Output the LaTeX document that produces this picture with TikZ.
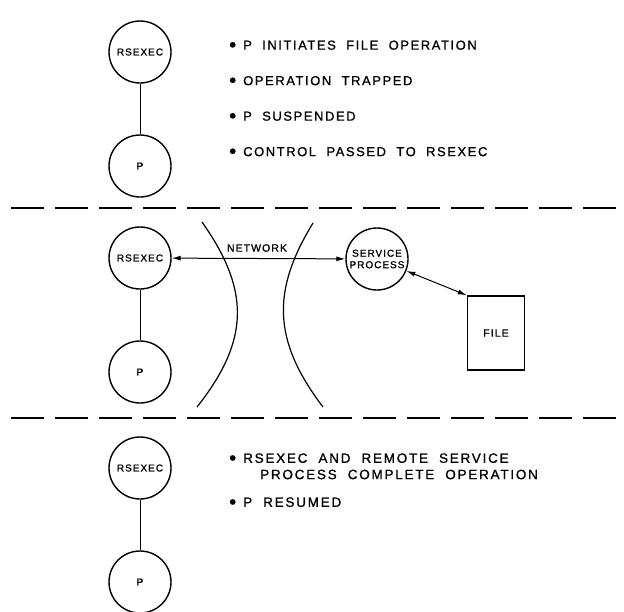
\documentclass[tikz,border=0pt]{standalone}
\usepackage{fontspec}
\setmainfont{Liberation Sans}
\newfontfamily\lblfont[LetterSpace=10,FakeBold=1.2]{Liberation Sans}
\newfontfamily\txtfont[LetterSpace=12,WordSpace=2,FakeBold=1.0]{Liberation Sans}
\newfontfamily\txtfontb[LetterSpace=13,WordSpace=2,FakeBold=1.0]{Liberation Sans}
\newcommand\bigbul{\raisebox{-1.8pt}{\fontsize{20}{14}\selectfont•}\hspace{7pt}}
\usetikzlibrary{arrows.meta}
\begin{document}
\begin{tikzpicture}[x=1pt,y=-1pt,
  proc/.style={circle,draw,line width=1.4pt,minimum size=62pt,inner sep=0pt,align=center,
    font=\lblfont\fontsize{10}{11.5}\selectfont},
  link/.style={line width=0.9pt},
  dline/.style={line width=1.8pt,dash pattern=on 33pt off 11pt},
  bul/.style={anchor=west,inner sep=0pt,font=\txtfont\fontsize{13}{15}\selectfont},
  bulb/.style={anchor=west,inner sep=0pt,font=\txtfontb\fontsize{13.5}{15}\selectfont},
  arr/.style={line width=1pt,{Latex[length=9pt,width=5pt]}-{Latex[length=9pt,width=5pt]}},
  filebox/.style={draw,line width=1.4pt,minimum width=57pt,minimum height=74pt,inner sep=0pt,
    font=\lblfont\fontsize{10.5}{12}\selectfont},
  netarc/.style={line width=1.2pt}
]
\useasboundingbox (0,0) rectangle (624,611);
\clip (0,0) rectangle (624,611);

% ---------- top section ----------
\node[proc] (r1) at (140,52) {RSEXEC};
\node[proc] (p1) at (140,166) {P};
\draw[link] (r1) -- (p1);
\node[bul] (t1) at (229,46) {\bigbul P INITIATES FILE OPERATION};
\node[bul] (t2) at (229,81.5) {\bigbul OPERATION TRAPPED};
\node[bul] (t3) at (229,117) {\bigbul P SUSPENDED};
\node[bul] (t4) at (229,152.5) {\bigbul CONTROL PASSED TO RSEXEC};

\coordinate (d1a) at (11,208); \coordinate (d1b) at (640,208);
\draw[dline] (d1a) -- (d1b);

% ---------- middle section ----------
\node[proc] (r2) at (140,258) {RSEXEC};
\node[proc] (p2) at (140,372) {P};
\draw[link] (r2) -- (p2);
\node[proc] (sp) at (377,259) {SERVICE\\PROCESS};
\node[filebox] (file) at (496,333) {FILE};
\draw[arr] (r2) -- (sp);
\node[inner sep=0pt,font=\lblfont\fontsize{10.5}{12}\selectfont] (net) at (257,248) {NETWORK};
\coordinate (fc) at (file.north west);
\draw[arr] (sp) -- (fc);

\coordinate (la) at (202,222); \coordinate (lb) at (197,407);
\coordinate (ra) at (313,223); \coordinate (rb) at (323,407);
\draw[netarc] (la) .. controls (250,290) and (250,340) .. (lb);
\draw[netarc] (ra) .. controls (272,290) and (272,340) .. (rb);

\coordinate (d2a) at (11,418); \coordinate (d2b) at (640,418);
\draw[dline] (d2a) -- (d2b);

% ---------- bottom section ----------
\node[proc] (r3) at (140,468) {RSEXEC};
\node[proc] (p3) at (140,582) {P};
\draw[link] (r3) -- (p3);
\node[bulb] (b1) at (229,459) {\bigbul RSEXEC AND REMOTE SERVICE};
\node[bulb] (b2) at (260,474.5) {PROCESS COMPLETE OPERATION};
\node[bulb] (b3) at (229,503) {\bigbul P RESUMED};
\end{tikzpicture}
\end{document}
